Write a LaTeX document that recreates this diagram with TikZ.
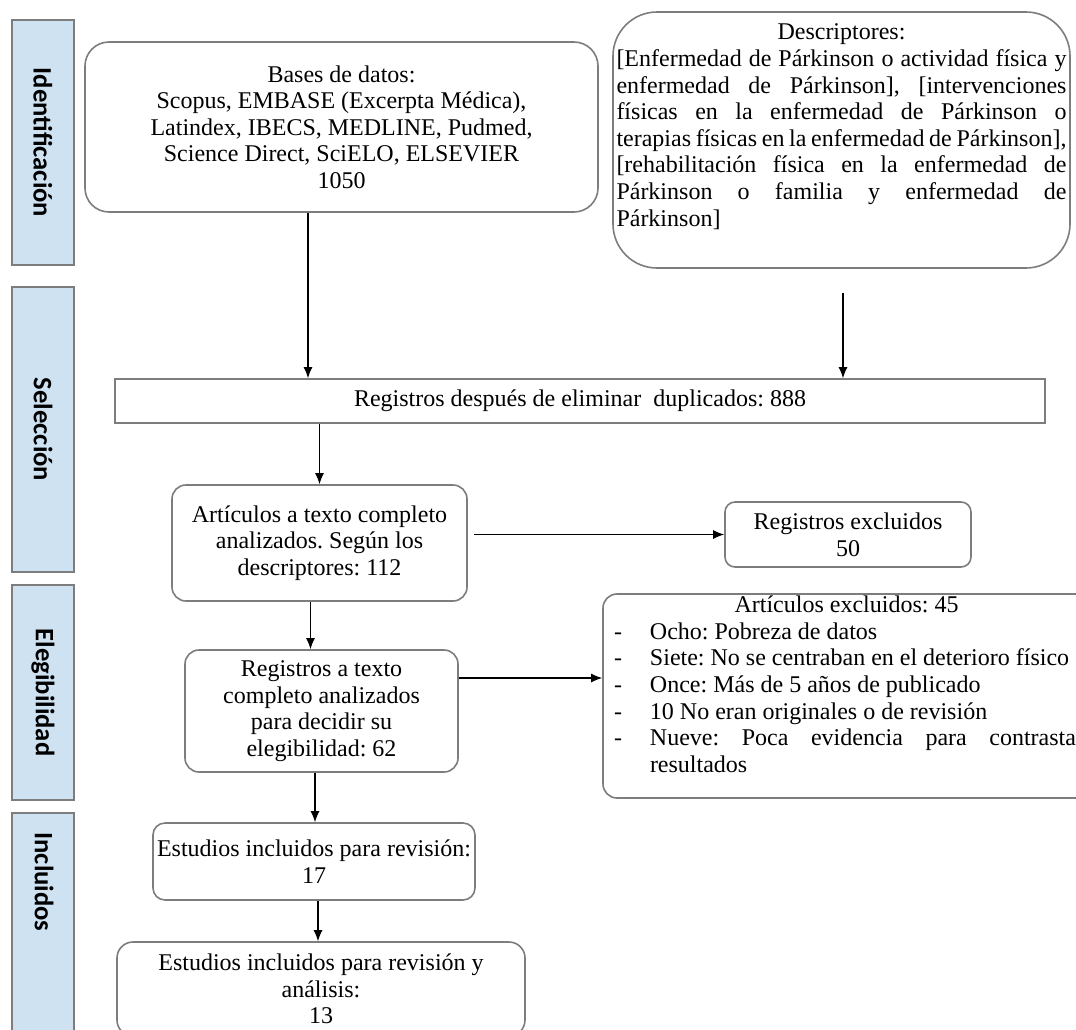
\documentclass[tikz,border=0pt]{standalone}
\usepackage{fontspec}
\setmainfont{Liberation Serif}
\newfontfamily\phasefont{Carlito}
\usetikzlibrary{arrows.meta}

\definecolor{phaseblue}{RGB}{206,226,242}
\definecolor{boxgray}{RGB}{125,125,125}

\newcommand{\dashitem}{\par\hangindent=20.5pt\hangafter=1\noindent\makebox[20.5pt][l]{\hspace{2.5pt}-}}

\begin{document}
\frenchspacing
\begin{tikzpicture}
  [
    x=0.5pt, y=-0.5pt,
    font=\fontsize{12}{13.3}\selectfont,
    phase box/.style={draw=boxgray,line width=1pt,fill=phaseblue,rotate=-90,minimum height=31pt,inner sep=0pt,
      font=\phasefont\bfseries\fontsize{13.3}{15}\selectfont},
    phase text/.style={rotate=-90,inner sep=0pt,font=\phasefont\bfseries\fontsize{13.3}{15}\selectfont},
    round box/.style={draw=boxgray,line width=0.8pt,rounded corners=7pt,align=center,inner sep=2pt},
    flat box/.style={draw=boxgray,line width=0.8pt,inner sep=2pt},
    to box/.style={-{Latex[length=5.5pt,width=4.5pt]},line width=0.6pt},
  ]

  \useasboundingbox (0,0) rectangle (1076,1029);
  \clip (0,0) rectangle (1076,1029);

  % fases
  \node[phase box,minimum width=122.5pt] (ident) at (43,142.5) {Identificación};
  \node[phase box,minimum width=142.5pt] (selec) at (43,429.5) {Selección};
  \node[phase box,minimum width=107.5pt] (eleg) at (43,692.5) {Elegibilidad};
  \node[phase box,minimum width=116pt] (incl) at (43,929) {};
  \node[phase text] (incltext) at (44,882) {Incluidos};

  % cajas
  \node[round box,minimum width=256.5pt,minimum height=85pt,rounded corners=12pt] (bases) at (341.5,127)
    {Bases de datos:\\Scopus, EMBASE (Excerpta Médica),\\Latindex, IBECS, MEDLINE, Pudmed,\\Science Direct, SciELO, ELSEVIER\\1050};
  \node[round box,minimum width=228.5pt,minimum height=128pt,rounded corners=22pt,inner sep=1.5pt] (desc) at (841.5,140)
    {\parbox[c][124pt][t]{225pt}{\vspace*{4pt}{\centering Descriptores:\par}
      [Enfermedad de Párkinson o actividad física y\linebreak
      enfermedad de Párkinson], [intervenciones\linebreak
      físicas en la enfermedad de Párkinson o\linebreak
      terapias físicas en la enfermedad de Párkinson],\linebreak{}[rehabilitación física en la enfermedad de\linebreak
      Párkinson o familia y enfermedad de\linebreak
      Párkinson]}};
  \node[flat box,minimum width=465pt,minimum height=22pt] (reg) at (580,401)
    {Registros después de eliminar\ \ duplicados: 888};
  \node[round box,minimum width=147.5pt,minimum height=58pt] (art) at (319.5,543)
    {Artículos a texto completo\\analizados. Según los\\descriptores: 112};
  \node[round box,minimum width=123pt,minimum height=32.5pt,rounded corners=5pt] (excl) at (848,534.5)
    {Registros excluidos\\50};
  \node[round box,minimum width=136.5pt,minimum height=61pt] (elig) at (321.5,711)
    {Registros a texto\\completo analizados\\para decidir su\\elegibilidad: 62};
  \node[round box,minimum width=243.5pt,minimum height=102pt,inner ysep=1pt] (exart) at (846.5,696)
    {\parbox[c][100pt][t]{237.5pt}{{\centering Artículos excluidos: 45\par}
      \dashitem Ocho: Pobreza de datos
      \dashitem Siete: No se centraban en el deterioro físico
      \dashitem Once: Más de 5 años de publicado
      \dashitem 10 No eran originales o de revisión
      \dashitem Nueve: Poca evidencia para contrastar\linebreak resultados\par}};
  \node[round box,minimum width=161pt,minimum height=38.5pt,inner xsep=1pt,rounded corners=6pt] (inc1) at (314,861.5)
    {Estudios incluidos para revisión:\\17};
  \node[round box,minimum width=204pt,minimum height=47pt,inner ysep=1pt,rounded corners=8pt] (inc2) at (321,989)
    {Estudios incluidos para revisión y\\análisis:\\13};

  % flechas
  \coordinate (basesout) at ([xshift=-16.75pt]bases.south);
  \draw[to box] (basesout) -- (basesout |- reg.north);
  \coordinate (descout) at ([xshift=0.75pt,yshift=-12pt]desc.south);
  \draw[to box] (descout) -- (descout |- reg.north);
  \draw[to box] (art.north |- reg.south) -- (art.north);
  \draw[to box] (art.east |- excl.west) ++(3pt,0) -- (excl.west);
  \coordinate (artdown) at ([xshift=-4.5pt]art.south);
  \draw[to box] (artdown) -- (artdown |- elig.north);
  \coordinate (eligout) at ([yshift=16.5pt]elig.east);
  \draw[to box] (eligout) -- (eligout -| exart.west);
  \coordinate (eligdown) at ([xshift=-3.25pt]elig.south);
  \draw[to box] (eligdown) -- (eligdown |- inc1.north);
  \coordinate (incdown) at ([xshift=2pt]inc1.south);
  \draw[to box] (incdown) -- (incdown |- inc2.north);

\end{tikzpicture}
\end{document}
